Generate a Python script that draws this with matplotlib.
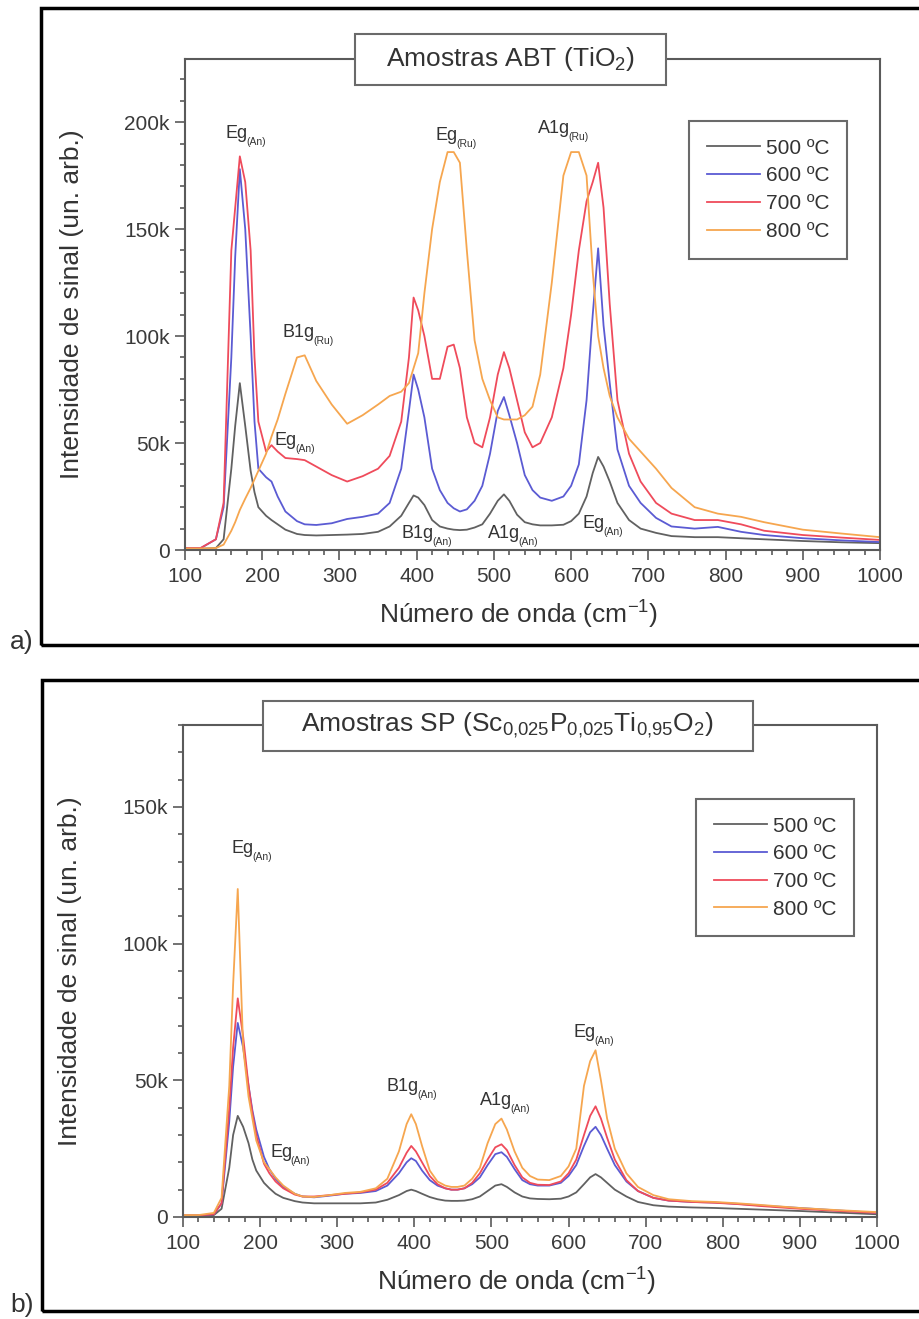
import matplotlib.pyplot as plt
import matplotlib.patches as mpatches
import matplotlib.ticker as mtick

plt.rcParams['font.family'] = ['Liberation Sans', 'DejaVu Sans']
plt.rcParams['mathtext.fontset'] = 'custom'
plt.rcParams['mathtext.rm'] = 'Liberation Sans'

# wavenumber grid (cm-1), shared by all curves
wn = [100, 120, 140, 150, 160, 165, 171, 178, 185, 190, 195, 205, 212, 220, 230, 245,
      255, 270, 290, 310, 330, 350, 365, 380, 390, 396, 402, 410, 420, 430, 440, 448,
      456, 465, 475, 485, 495, 505, 513, 520, 530, 540, 550, 560, 575, 590, 600, 610,
      620, 628, 635, 642, 650, 660, 675, 690, 710, 730, 760, 790, 820, 850, 900, 950, 1000]

# a) ABT (TiO2)
abt_500 = [600, 600, 900, 5000, 38000, 58000, 78000, 58000, 37000, 27000, 20000, 16000, 14000,
           12000, 9500, 7500, 7000, 6800, 7000, 7200, 7500, 8500, 11000, 16000, 22000, 25500,
           24500, 21000, 14000, 11000, 10000, 9500, 9300, 9500, 10500, 12000, 17000, 23000,
           26000, 23000, 16500, 13000, 12000, 11500, 11500, 11800, 13500, 17000, 25000, 36000,
           43500, 39000, 32000, 22000, 14000, 10000, 8000, 6500, 6000, 6000, 5500, 5000, 4200,
           3600, 3200]
abt_600 = [800, 800, 5000, 20000, 90000, 137000, 178000, 150000, 100000, 60000, 38000, 34000,
           32000, 25000, 18000, 13500, 12000, 11700, 12500, 14500, 15500, 17000, 22000, 38000,
           65000, 82000, 75000, 62000, 38000, 28000, 22000, 19500, 18000, 19000, 23000, 30000,
           45000, 65000, 71500, 63000, 50000, 35000, 28000, 24500, 23000, 25000, 30000, 40000,
           70000, 110000, 141000, 105000, 78000, 47000, 30000, 22000, 15000, 11000, 10000,
           10800, 8500, 7000, 5500, 4500, 3700]
abt_700 = [900, 900, 5000, 22000, 140000, 160000, 184000, 172000, 140000, 90000, 60000, 46000,
           49000, 46000, 43000, 42500, 42000, 39000, 35000, 32000, 34500, 38000, 44000, 60000,
           90000, 118000, 112000, 100000, 80000, 80000, 95000, 96000, 85000, 62000, 50000,
           48000, 62000, 82000, 92500, 85000, 70000, 55000, 48000, 50000, 62000, 85000, 110000,
           140000, 163000, 172000, 181000, 160000, 115000, 70000, 45000, 32000, 22000, 17000,
           14000, 14000, 12000, 9000, 7000, 5800, 4700]
abt_800 = [700, 700, 900, 2500, 9000, 13000, 18700, 24000, 29000, 33000, 37000, 45000, 53000,
           61000, 73000, 90000, 91000, 79000, 68000, 59000, 63000, 68000, 72000, 74000, 78000,
           85000, 92000, 120000, 150000, 172000, 186000, 186000, 181000, 140000, 98000, 80000,
           70000, 62000, 61000, 61000, 61000, 63000, 67000, 82000, 125000, 175000, 186000,
           186000, 175000, 130000, 100000, 85000, 72000, 62000, 52000, 46000, 38000, 29000,
           20000, 17000, 15500, 13000, 9500, 7700, 6000]

# b) SP (Sc0,025P0,025Ti0,95O2)
sp_500 = [500, 500, 700, 3000, 18000, 30000, 37000, 33000, 27000, 21000, 17000, 12500, 10500,
          8500, 7000, 5800, 5300, 5000, 5000, 5000, 5000, 5300, 6300, 8000, 9500, 10000, 9500,
          8500, 7300, 6500, 6000, 5900, 5900, 6000, 6500, 7500, 9500, 11500, 12000, 11000,
          9000, 7500, 6800, 6600, 6500, 6700, 7500, 9000, 12000, 14500, 15700, 14500, 12500,
          10000, 7500, 5500, 4300, 3800, 3500, 3300, 3000, 2700, 2200, 1600, 1000]
sp_600 = [600, 600, 1000, 5000, 35000, 55000, 71000, 62000, 48000, 39000, 32000, 22000, 17500,
          14000, 11000, 8500, 7500, 7200, 7800, 8500, 8800, 9500, 11500, 16000, 20000, 21500,
          20500, 17000, 13500, 11500, 10500, 10000, 10000, 10500, 12000, 14500, 19000, 23000,
          23700, 22000, 17500, 13500, 12000, 11500, 11500, 12500, 15000, 19000, 26000, 31000,
          33000, 30000, 25000, 19000, 13000, 9500, 7000, 6000, 5500, 5300, 4800, 4200, 3300,
          2400, 1500]
sp_700 = [600, 600, 1000, 5000, 40000, 62000, 80000, 66000, 48000, 38000, 30000, 19500, 16000,
          13000, 10500, 8200, 7500, 7500, 8000, 8500, 9000, 10000, 12500, 18000, 23500, 26000,
          24000, 20000, 15000, 12000, 10500, 10000, 10000, 10500, 12500, 16000, 21000, 25500,
          26600, 24500, 19000, 14500, 12500, 11800, 11700, 13000, 16000, 21000, 30000, 37000,
          40500, 36000, 29000, 21000, 13500, 9500, 7000, 6000, 5500, 5200, 4700, 4000, 3000,
          2200, 1500]
sp_800 = [700, 700, 1500, 7000, 48000, 85000, 120000, 62000, 44000, 36000, 28000, 20000, 17500,
          14500, 11500, 8500, 7500, 7300, 8000, 8800, 9200, 10500, 14000, 24000, 34000, 37600,
          34000, 26000, 17000, 13000, 11500, 11000, 11000, 11500, 14000, 18000, 27000, 34000,
          36000, 32000, 24000, 18000, 15000, 13700, 13500, 15000, 18500, 25000, 48000, 57000,
          61000, 50000, 36000, 25000, 16000, 11000, 8000, 6500, 5800, 5500, 5000, 4400, 3300,
          2500, 1800]

temps = ['500 ºC', '600 ºC', '700 ºC', '800 ºC']
colors = ['#616161', '#5b5bd3', '#ef4b5b', '#f6a64f']

# Raman mode labels: (x, y, main, sub)
modes_a = [(153, 192500, 'Eg', '(An)'), (226, 99500, 'B1g', '(Ru)'),
           (424, 191600, 'Eg', '(Ru)'), (557, 195000, 'A1g', '(Ru)'),
           (216, 49000, 'Eg', '(An)'), (380, 5600, 'B1g', '(An)'),
           (492, 5600, 'A1g', '(An)'), (615, 10300, 'Eg', '(An)')]
modes_b = [(163, 133000, 'Eg', '(An)'), (213, 21900, 'Eg', '(An)'),
           (364, 46000, 'B1g', '(An)'), (485, 41000, 'A1g', '(An)'),
           (606, 66000, 'Eg', '(An)')]

SPINE = '#5a5a5a'
TXT = '#333333'


def kfmt(v, pos):
    return '0' if v == 0 else '%dk' % round(v / 1000)


def mode_label(fig, ax, x, y, main, sub):
    t = ax.text(x, y, main, fontsize=13, color=TXT, ha='left', va='baseline')
    bb = t.get_window_extent(renderer=fig.canvas.get_renderer())
    x_end = ax.transData.inverted().transform((bb.x1, bb.y0))[0]
    ax.annotate(sub, xy=(x_end, y), xytext=(-1, -5), textcoords='offset points',
                fontsize=7.5, color=TXT, ha='left', va='baseline')


def draw_panel(fig, rect, series, ymax, title, box, modes, leg_anchor):
    ax = fig.add_axes(rect)
    for vals, c, lab in zip(series, colors, temps):
        ax.plot(wn, vals, color=c, lw=1.3, label=lab)
    ax.set_xlim(100, 1000)
    ax.set_ylim(0, ymax)
    ax.xaxis.set_major_locator(mtick.MultipleLocator(100))
    ax.xaxis.set_minor_locator(mtick.MultipleLocator(20))
    ax.yaxis.set_major_locator(mtick.MultipleLocator(50000))
    ax.yaxis.set_minor_locator(mtick.MultipleLocator(10000))
    ax.yaxis.set_major_formatter(mtick.FuncFormatter(kfmt))
    ax.tick_params(which='both', direction='out', color=SPINE, width=1.2,
                   labelsize=15, labelcolor='#3a3a3a')
    ax.tick_params(which='major', length=7)
    ax.tick_params(which='minor', length=3.5)
    ax.tick_params(axis='x', pad=5)
    ax.tick_params(axis='y', pad=4)
    for s in ax.spines.values():
        s.set_color(SPINE)
        s.set_linewidth(1.5)

    ax.set_xlabel('Número de onda (cm$^{\\mathregular{-1}}$)', fontsize=19, color=TXT)
    ax.set_ylabel('Intensidade de sinal (un. arb.)', fontsize=19, color=TXT)
    ax.xaxis.set_label_coords(0.48, -0.095)
    ax.yaxis.set_label_coords(-0.145, 0.5)

    # title box sitting on the top spine
    x0, x1, y0, y1 = box
    ax.add_patch(mpatches.Rectangle((x0, y0), x1 - x0, y1 - y0, transform=ax.transAxes,
                                    facecolor='white', edgecolor='#6a6a6a', lw=1.5,
                                    clip_on=False, zorder=5))
    ax.text(0.468, 1.0, title, transform=ax.transAxes, fontsize=19, color=TXT,
            ha='center', va='center', zorder=6)

    leg = ax.legend(loc='upper left', bbox_to_anchor=leg_anchor, borderaxespad=0,
                    fontsize=15, fancybox=False, edgecolor='#6a6a6a', framealpha=1,
                    handlelength=2.55, handletextpad=0.3, labelspacing=0.42,
                    borderpad=0.85)
    leg.get_frame().set_linewidth(1.5)
    for t in leg.get_texts():
        t.set_color(TXT)

    for x, y, main, sub in modes:
        mode_label(fig, ax, x, y, main, sub)
    return ax


fig = plt.figure(figsize=(9.19, 13.19), dpi=100)

draw_panel(fig, [185 / 919, 1 - 550 / 1319, 695 / 919, 491 / 1319],
           [abt_500, abt_600, abt_700, abt_800], 229500,
           'Amostras ABT (TiO$_{\\mathregular{2}}$)',
           (0.2446, 0.692, 0.947, 1.051), modes_a, (0.725, 0.874))

draw_panel(fig, [183 / 919, 1 - 1217 / 1319, 694 / 919, 492 / 1319],
           [sp_500, sp_600, sp_700, sp_800], 180000,
           'Amostras SP (Sc$_{\\mathregular{0{,}025}}$P$_{\\mathregular{0{,}025}}$'
           'Ti$_{\\mathregular{0{,}95}}$O$_{\\mathregular{2}}$)',
           (0.1153, 0.8213, 0.947, 1.049), modes_b, (0.739, 0.85))

# outer frames and panel letters
for left, bottom, top in [(41, 645, 8), (42, 1311, 680)]:
    fig.add_artist(mpatches.Rectangle((left / 919, 1 - bottom / 1319), 1.1,
                                      (bottom - top) / 1319, transform=fig.transFigure,
                                      fill=False, edgecolor='black', lw=2.5))
fig.text(10 / 919, 1 - 642 / 1319, 'a)', fontsize=19, color=TXT, ha='left', va='center')
fig.text(10 / 919, 1 - 1305 / 1319, 'b)', fontsize=19, color=TXT, ha='left', va='center')

fig.savefig('out.png', dpi=100, facecolor='white')
